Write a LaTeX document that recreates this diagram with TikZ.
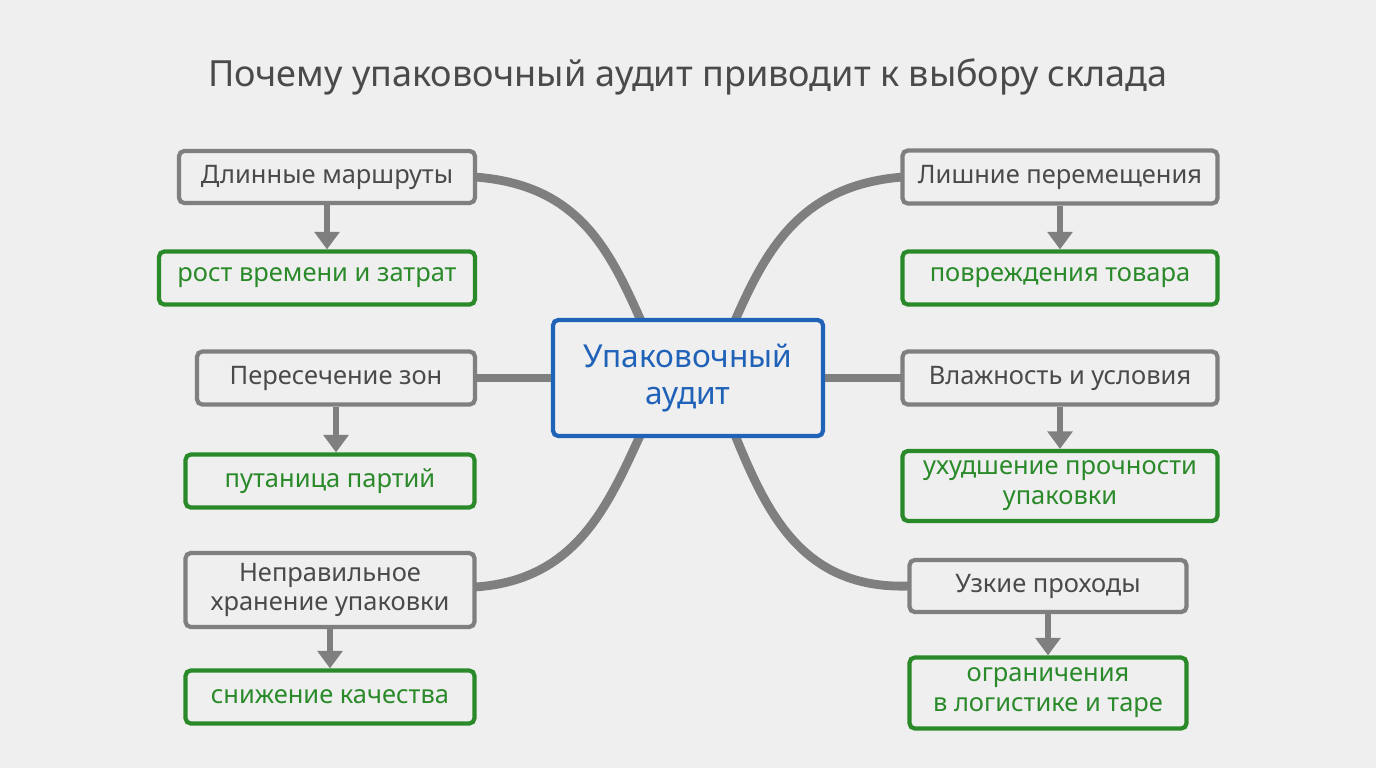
\documentclass[tikz,border=0pt]{standalone}
\usepackage{fontspec}
\setmainfont{Noto Sans}
\usetikzlibrary{arrows.meta}
\definecolor{bg}{HTML}{EFEFEF}
\definecolor{boxgray}{HTML}{7F7F7F}
\definecolor{txtgray}{HTML}{4A4A4A}
\definecolor{okgreen}{HTML}{2A8A2A}
\definecolor{auditblue}{HTML}{1F62B8}
\begin{document}
\begin{tikzpicture}[x=0.02cm,y=-0.02cm,
  cause/.style={draw=boxgray,line width=2.4pt,rounded corners=3pt,fill=bg,text=txtgray,font=\fontsize{14.5}{17}\selectfont,align=center,inner sep=0pt},
  effect/.style={draw=okgreen,line width=2.4pt,rounded corners=3pt,fill=bg,text=okgreen,font=\fontsize{14.5}{17}\selectfont,align=center,inner sep=0pt},
  link/.style={draw=boxgray,line width=5pt},
  flow/.style={draw=boxgray,line width=3pt,-{Triangle[width=14pt,length=10pt]}}]
\fill[bg] (0,0) rectangle (1376,768);
\node[text=txtgray,font=\fontsize{20.5}{24}\selectfont] (title) at (688,77) {Почему упаковочный аудит приводит к выбору склада};

\draw[link] (475,177) .. controls (580,185) and (610,250) .. (645,330);
\draw[link] (475,378) -- (560,378);
\draw[link] (475,587) .. controls (580,580) and (610,500) .. (645,425);
\draw[link] (903,177) .. controls (800,185) and (765,250) .. (731,330);
\draw[link] (903,378) -- (815,378);
\draw[link] (910,586) .. controls (800,590) and (765,510) .. (731,425);

\node[draw=auditblue,line width=2.4pt,rounded corners=3pt,fill=bg,text=auditblue,font=\fontsize{18}{21}\selectfont,align=center,minimum width=270*0.02cm,minimum height=116*0.02cm] (audit) at (688,378) {Упаковочный\\аудит};

\node[cause,minimum width=296*0.02cm,minimum height=52*0.02cm] (routes) at (327,177) {Длинные маршруты};
\node[effect,minimum width=316*0.02cm,minimum height=53*0.02cm] (time) at (317,278) {рост времени и затрат};
\node[cause,minimum width=278*0.02cm,minimum height=53*0.02cm] (zones) at (336,378) {Пересечение зон};
\node[effect,minimum width=289*0.02cm,minimum height=53*0.02cm] (lots) at (330,481) {путаница партий};
\node[cause,minimum width=289*0.02cm,minimum height=74*0.02cm] (storage) at (330,590) {Неправильное\\хранение упаковки};
\node[effect,minimum width=289*0.02cm,minimum height=53*0.02cm] (quality) at (330,697) {снижение качества};

\node[cause,minimum width=315*0.02cm,minimum height=53*0.02cm] (moves) at (1060,177) {Лишние перемещения};
\node[effect,minimum width=315*0.02cm,minimum height=53*0.02cm] (damage) at (1060,278) {повреждения товара};
\node[cause,minimum width=315*0.02cm,minimum height=53*0.02cm] (humid) at (1060,378) {Влажность и условия};
\node[effect,minimum width=315*0.02cm,minimum height=70*0.02cm] (strength) at (1060,486) {ухудшение прочности\\упаковки};
\node[cause,minimum width=277*0.02cm,minimum height=52*0.02cm] (aisles) at (1048,586) {Узкие проходы};
\node[effect,minimum width=277*0.02cm,minimum height=71*0.02cm] (limits) at (1048,693) {ограничения\\в логистике и таре};

\draw[flow] (routes.south) -- (routes.south |- time.north);
\draw[flow] (zones.south) -- (zones.south |- lots.north);
\draw[flow] (storage.south) -- (storage.south |- quality.north);
\draw[flow] (moves.south) -- (moves.south |- damage.north);
\draw[flow] (humid.south) -- (humid.south |- strength.north);
\draw[flow] (aisles.south) -- (aisles.south |- limits.north);
\end{tikzpicture}
\end{document}
